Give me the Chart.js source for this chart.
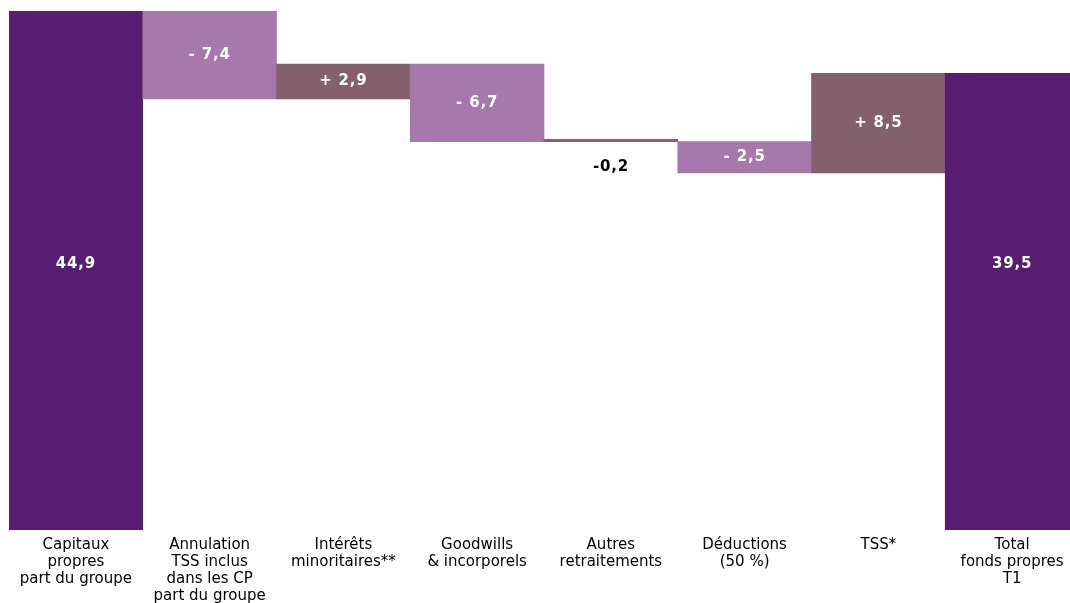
<!DOCTYPE html>
<html>
<head>
<meta charset="utf-8">
<script src="https://cdn.jsdelivr.net/npm/chart.js@4"></script>
<style>
html,body{margin:0;padding:0;background:#fff;overflow:hidden;}
#wrap{width:1080px;height:603px;}
</style>
</head>
<body>
<div id="wrap"><canvas id="c" width="1080" height="603"></canvas></div>
<script>
const categories = [
  ['Capitaux', 'propres', 'part du groupe'],
  ['Annulation', 'TSS inclus', 'dans les CP', 'part du groupe'],
  ['Intérêts', 'minoritaires**'],
  ['Goodwills', '& incorporels'],
  ['Autres', 'retraitements'],
  ['Déductions', '(50 %)'],
  ['TSS*'],
  ['Total', 'fonds propres', 'T1']
];
const barLows  = [0,    37.3, 37.3, 33.6, 33.6, 30.9, 30.9, 0];
const barHighs = [44.9, 44.9, 40.3, 40.3, 33.8, 33.6, 39.5, 39.5];
const valueLabels = ['44,9', '- 7,4', '+ 2,9', '- 6,7', '-0,2', '- 2,5', '+ 8,5', '39,5'];
const barColors = ['#561D71', '#A678AC', '#845F6C', '#A678AC', '#845F6C', '#A678AC', '#845F6C', '#561D71'];

const labelPlugin = {
  id: 'valueLabels',
  afterDatasetsDraw(chart) {
    const ctx = chart.ctx;
    const meta = chart.getDatasetMeta(0);
    const area = chart.chartArea;
    ctx.save();
    ctx.font = 'bold 15px "DejaVu Sans"';
    ctx.textAlign = 'center';
    ctx.textBaseline = 'middle';
    try { ctx.letterSpacing = '0.8px'; } catch (e) {}
    meta.data.forEach((bar, i) => {
      const top = Math.min(bar.y, bar.base);
      const bottom = Math.max(bar.y, bar.base);
      const h = bottom - top;
      let y, color = '#ffffff';
      if (barLows[i] === 0) {
        y = (area.top + area.bottom) / 2 - 6;
      } else if (h < 15) {
        y = bottom + 25;
        color = '#000000';
      } else {
        y = (top + bottom) / 2;
      }
      ctx.fillStyle = color;
      ctx.fillText(valueLabels[i], bar.x, y);
    });
    ctx.restore();
  }
};

new Chart(document.getElementById('c'), {
  type: 'bar',
  data: {
    labels: categories,
    datasets: [{
      data: barLows.map((l, i) => [l, barHighs[i]]),
      backgroundColor: barColors,
      borderWidth: 0,
      barPercentage: 1,
      categoryPercentage: 1
    }]
  },
  options: {
    responsive: false,
    animation: false,
    layout: { padding: { left: 9, top: 11, right: 1, bottom: 0 } },
    plugins: { legend: { display: false }, tooltip: { enabled: false } },
    scales: {
      x: {
        grid: { display: false, drawTicks: false },
        border: { display: false },
        ticks: {
          color: '#000000',
          font: { family: '"DejaVu Sans"', size: 15, lineHeight: '17px' },
          padding: 7,
          maxRotation: 0,
          autoSkip: false
        },
        afterFit(scale) { scale.height = 73; }
      },
      y: { display: false, min: 0, max: 44.9 }
    }
  },
  plugins: [labelPlugin]
});
</script>
</body>
</html>
